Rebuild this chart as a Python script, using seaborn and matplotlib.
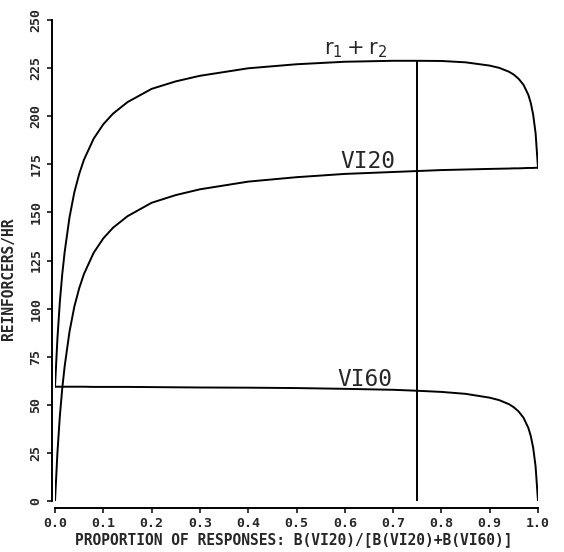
import matplotlib
matplotlib.use("Agg")
import matplotlib.pyplot as plt
import pandas as pd
import seaborn as sns

# Proportion of responses allocated to the VI 20-s schedule
proportion = [0, 0.005, 0.01, 0.015, 0.02, 0.03, 0.04, 0.05, 0.06, 0.08, 0.1,
              0.12, 0.15, 0.2, 0.25, 0.3, 0.4, 0.5, 0.6, 0.7, 0.75, 0.8, 0.85,
              0.9, 0.92, 0.94, 0.95, 0.96, 0.97, 0.98, 0.985, 0.99, 0.995, 1.0]

# Obtained reinforcers per hour on each schedule
vi20 = [0, 25, 44, 58.5, 70, 88, 101, 110.5, 118, 129, 136.5,
        142, 148, 155, 159, 162, 166, 168.3, 170, 171, 171.5, 172, 172.3,
        172.6, 172.7, 172.8, 172.9, 172.9, 173.0, 173.1, 173.1, 173.1, 173.2, 173.2]
vi60 = [59.4, 59.4, 59.4, 59.4, 59.4, 59.4, 59.4, 59.4, 59.4, 59.3, 59.3,
        59.3, 59.3, 59.2, 59.1, 59.0, 58.9, 58.7, 58.3, 57.8, 57.3, 56.7, 55.7,
        53.7, 52.4, 50.3, 48.7, 46.5, 43.3, 38.0, 33.8, 27.7, 18.0, 0]
# Overall reinforcement rate r1 + r2
total = [59.4, 84.4, 103.4, 117.9, 129.4, 147.4, 160.4, 169.9, 177.4, 188.3, 195.8,
         201.3, 207.3, 214.2, 218.1, 221.0, 224.9, 227.0, 228.3, 228.8, 228.8, 228.7, 228.0,
         226.3, 225.1, 223.1, 221.6, 219.4, 216.3, 211.1, 206.9, 200.8, 191.2, 173.2]

# Allocation marked by the vertical line
marked_p = 0.75

x_ticks = [0.0, 0.1, 0.2, 0.3, 0.4, 0.5, 0.6, 0.7, 0.8, 0.9, 1.0]
y_ticks = [0, 25, 50, 75, 100, 125, 150, 175, 200, 225, 250]

df = pd.DataFrame({"p": proportion, "vi20": vi20, "vi60": vi60, "total": total})

sns.set_style("ticks")
plt.rcParams["font.family"] = ["DejaVu Sans Mono", "DejaVu Sans"]
plt.rcParams["mathtext.fontset"] = "dejavusans"

fig = plt.figure(figsize=(5.64, 5.52), dpi=100)
W, H = 564, 552
ax = fig.add_axes([55 / W, (H - 501) / H, (538 - 55) / W, (501 - 20) / H])

lw = 1.4
for col in ["total", "vi20", "vi60"]:
    sns.lineplot(data=df, x="p", y=col, ax=ax, color="black", linewidth=lw,
                 estimator=None, sort=False, legend=False)

idx = proportion.index(marked_p)
ax.plot([marked_p, marked_p], [0, total[idx]], color="black", linewidth=lw)

ax.set_xlim(0, 1)
ax.set_ylim(0, 250)
ax.set_xticks(x_ticks)
ax.set_yticks(y_ticks)

sns.despine(ax=ax, offset=dict(left=2.2, bottom=5), trim=True)
for s in ["left", "bottom"]:
    ax.spines[s].set_linewidth(lw)
    ax.spines[s].set_color("black")

ax.set_xticklabels([f"{t:.1f}" for t in x_ticks],
                   family="DejaVu Sans Mono", weight="bold", fontsize=9.5)
ax.set_yticklabels([str(t) for t in y_ticks],
                   family="DejaVu Sans Mono", weight="bold", fontsize=9.5,
                   rotation=90, va="center")
ax.tick_params(axis="both", direction="out", length=3.8, width=1.1, color="black", pad=3)

ax.set_xlabel("PROPORTION OF RESPONSES: B(VI20)/[B(VI20)+B(VI60)]",
              family="DejaVu Sans Mono", weight="bold", fontsize=10.5)
ax.set_ylabel("REINFORCERS/HR", family="DejaVu Sans Mono", weight="bold",
              fontsize=10.5)
ax.xaxis.set_label_coords(0.495, (501 - 540) / 481)
ax.xaxis.label.set_va("center")
ax.yaxis.set_label_coords((9 - 55) / 483, (501 - 279) / 481)
ax.yaxis.label.set_va("center")

ax.text(0.647, 173, "VI20", family="DejaVu Sans Mono", fontsize=16.4,
        ha="center", va="baseline")
ax.text(0.642, 60, "VI60", family="DejaVu Sans Mono", fontsize=16.4,
        ha="center", va="baseline")
ax.text(0.623, 232, r"$\mathrm{r}_1 + \mathrm{r}_2$", fontsize=15,
        ha="center", va="baseline")

fig.savefig("out.png", dpi=100)
